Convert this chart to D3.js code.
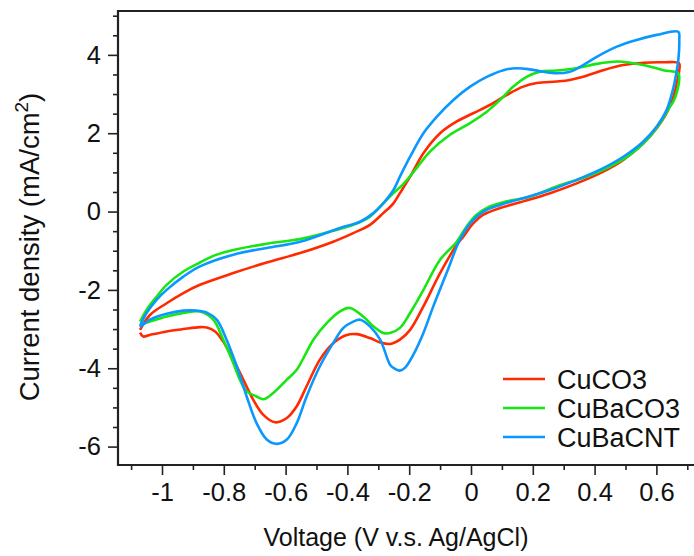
<!DOCTYPE html>
<html>
<head>
<meta charset="utf-8">
<script src="https://cdn.jsdelivr.net/npm/d3@7"></script>
<style>
  html, body { margin: 0; padding: 0; background: #fff; }
  svg { display: block; }
  text { font-family: "Liberation Sans", Arial, sans-serif; fill: #111; }
</style>
</head>
<body>
<svg id="chart" width="694" height="556"></svg>
<script>
// Cyclic voltammograms: anodic sweep from -1.07 V to 0.67 V, then the cathodic sweep back.
const seriesNames = ["CuCO3", "CuBaCO3", "CuBaCNT"];
const seriesColors = ["#ff2a00", "#18e612", "#0a98ff"];

const voltCuCO3 = [
  -1.071, -1.039, -0.985, -0.931, -0.877, -0.769, -0.661, -0.553, -0.446, -0.381, -0.327, -0.284, -0.251, -0.230,
  -0.197, -0.154, -0.100, -0.046, 0.007, 0.061, 0.116, 0.169, 0.213, 0.277, 0.320, 0.363, 0.428, 0.493, 0.558,
  0.622, 0.673,
  0.674, 0.666, 0.655, 0.633, 0.601, 0.558, 0.493, 0.428, 0.342, 0.256, 0.169, 0.094, 0.040, 0.007, -0.025,
  -0.046, -0.100, -0.154, -0.197, -0.230, -0.262, -0.294, -0.327, -0.370, -0.402, -0.446, -0.489, -0.532, -0.564,
  -0.596, -0.634, -0.672, -0.705, -0.737, -0.769, -0.802, -0.828, -0.855, -0.877, -0.931, -0.985, -1.039, -1.061,
  -1.071
];
const currCuCO3 = [
  -3.02, -2.64, -2.34, -2.08, -1.87, -1.57, -1.30, -1.06, -0.77, -0.55, -0.34, -0.04, 0.21, 0.47,
  0.89, 1.49, 2.00, 2.30, 2.51, 2.72, 2.98, 3.19, 3.28, 3.32, 3.36, 3.44, 3.61, 3.74, 3.80,
  3.81, 3.79,
  3.61, 3.28, 2.93, 2.51, 2.13, 1.74, 1.32, 1.02, 0.72, 0.47, 0.26, 0.09, -0.08, -0.30, -0.64,
  -0.85, -1.57, -2.42, -3.02, -3.27, -3.38, -3.34, -3.23, -3.13, -3.15, -3.36, -3.78, -4.46, -4.97,
  -5.27, -5.38, -5.19, -4.80, -4.29, -3.78, -3.32, -3.06, -2.96, -2.95, -3.00, -3.06, -3.15, -3.19,
  -3.09
];

const voltCuBaCO3 = [
  -1.071, -1.050, -1.017, -0.985, -0.931, -0.877, -0.823, -0.769, -0.661, -0.553, -0.446, -0.381, -0.327, -0.284,
  -0.251, -0.219, -0.176, -0.133, -0.068, -0.003, 0.051, 0.094, 0.137, 0.180, 0.223, 0.277, 0.342, 0.407, 0.472,
  0.515, 0.569, 0.622, 0.671,
  0.674, 0.668, 0.655, 0.644, 0.612, 0.569, 0.515, 0.450, 0.374, 0.277, 0.191, 0.116, 0.061, 0.018, -0.014,
  -0.046, -0.100, -0.154, -0.197, -0.230, -0.262, -0.284, -0.316, -0.349, -0.392, -0.424, -0.467, -0.510, -0.564,
  -0.596, -0.640, -0.672, -0.694, -0.726, -0.748, -0.769, -0.802, -0.834, -0.877, -0.931, -0.985, -1.039, -1.071
];
const currCuBaCO3 = [
  -2.81, -2.51, -2.17, -1.87, -1.53, -1.30, -1.10, -0.98, -0.82, -0.70, -0.49, -0.34, -0.13, 0.21,
  0.47, 0.70, 1.11, 1.53, 1.96, 2.26, 2.55, 2.85, 3.19, 3.44, 3.57, 3.60, 3.66, 3.77, 3.83,
  3.80, 3.72, 3.61, 3.53,
  3.40, 3.10, 2.81, 2.68, 2.26, 1.83, 1.45, 1.15, 0.89, 0.64, 0.38, 0.26, 0.13, -0.08, -0.38,
  -0.77, -1.23, -2.00, -2.59, -2.97, -3.10, -3.10, -2.93, -2.68, -2.46, -2.55, -2.85, -3.27, -4.04,
  -4.29, -4.63, -4.79, -4.72, -4.59, -4.29, -3.87, -3.27, -2.76, -2.55, -2.59, -2.68, -2.81, -2.89
];

const voltCuBaCNT = [
  -1.071, -1.050, -1.017, -0.985, -0.931, -0.877, -0.769, -0.661, -0.553, -0.424, -0.359, -0.316, -0.284, -0.251,
  -0.230, -0.197, -0.154, -0.111, -0.057, -0.003, 0.051, 0.105, 0.148, 0.191, 0.234, 0.277, 0.320, 0.363, 0.407,
  0.472, 0.536, 0.601, 0.671,
  0.674, 0.671, 0.666, 0.655, 0.633, 0.601, 0.558, 0.493, 0.428, 0.342, 0.256, 0.169, 0.094, 0.040, -0.003,
  -0.036, -0.079, -0.122, -0.154, -0.187, -0.214, -0.230, -0.251, -0.262, -0.294, -0.327, -0.359, -0.381, -0.413,
  -0.446, -0.489, -0.532, -0.564, -0.596, -0.629, -0.661, -0.694, -0.726, -0.758, -0.791, -0.823, -0.855, -0.888,
  -0.931, -0.985, -1.039, -1.071
];
const currCuBaCNT = [
  -2.92, -2.59, -2.25, -2.00, -1.66, -1.40, -1.10, -0.93, -0.77, -0.42, -0.26, -0.04, 0.21, 0.55,
  0.89, 1.40, 2.00, 2.42, 2.85, 3.19, 3.44, 3.61, 3.66, 3.63, 3.57, 3.53, 3.57, 3.74, 3.95,
  4.21, 4.38, 4.51, 4.59,
  4.38, 3.87, 3.61, 3.16, 2.59, 2.17, 1.79, 1.40, 1.11, 0.81, 0.55, 0.34, 0.17, 0.00, -0.30,
  -0.72, -1.57, -2.42, -3.10, -3.66, -3.99, -4.06, -3.99, -3.91, -3.27, -2.93, -2.76, -2.81, -2.97,
  -3.36, -3.95, -4.72, -5.40, -5.82, -5.93, -5.82, -5.40, -4.72, -3.95, -3.27, -2.76, -2.58, -2.53,
  -2.53, -2.61, -2.76, -2.95
];

const voltages = [voltCuCO3, voltCuBaCO3, voltCuBaCNT];
const currents = [currCuCO3, currCuBaCO3, currCuBaCNT];

const xTickValues = [-1, -0.8, -0.6, -0.4, -0.2, 0, 0.2, 0.4, 0.6];
const yTickValues = [-6, -4, -2, 0, 2, 4];
const xTitle = "Voltage (V v.s. Ag/AgCl)";

const svg = d3.select("#chart");
const plotLeft = 118, plotRight = 702, plotTop = 11, plotBottom = 465;

const x = d3.scaleLinear().domain([-1.1424, 0.7476]).range([plotLeft, plotRight]);
const y = d3.scaleLinear().domain([-6.47, 5.12]).range([plotBottom, plotTop]);

const fmt = d => String(+d.toFixed(1));

// Minor ticks
const xMinor = d3.range(-11, 8).map(i => i / 10).filter(v => !xTickValues.some(t => Math.abs(t - v) < 1e-9));
const yMinor = d3.range(-12, 11).map(i => i / 2).filter(v => !yTickValues.some(t => Math.abs(t - v) < 1e-9));

const gx = svg.append("g").attr("transform", `translate(0,${plotBottom})`);
gx.call(d3.axisBottom(x).tickValues(xMinor).tickSize(5).tickFormat(""));
gx.append("g").call(d3.axisBottom(x).tickValues(xTickValues).tickSize(10).tickPadding(8).tickFormat(fmt));

const gy = svg.append("g").attr("transform", `translate(${plotLeft},0)`);
gy.call(d3.axisLeft(y).tickValues(yMinor).tickSize(5).tickFormat(""));
gy.append("g").call(d3.axisLeft(y).tickValues(yTickValues).tickSize(10).tickPadding(7).tickFormat(fmt));

svg.selectAll(".domain").remove();
svg.selectAll(".tick line").attr("stroke", "#222").attr("stroke-width", 1.6);
svg.selectAll(".tick text").attr("font-size", 25.5).attr("font-family", "Liberation Sans, Arial, sans-serif").attr("fill", "#111");
gx.selectAll(".tick text").attr("dy", "0.72em");

// Plot curves
const line = d3.line()
  .x(d => x(d[0]))
  .y(d => y(d[1]))
  .curve(d3.curveCatmullRom.alpha(0.5));

seriesNames.forEach((name, i) => {
  const pts = voltages[i].map((v, k) => [v, currents[i][k]]);
  svg.append("path")
    .datum(pts)
    .attr("fill", "none")
    .attr("stroke", seriesColors[i])
    .attr("stroke-width", 2.6)
    .attr("stroke-linejoin", "round")
    .attr("d", line);
});

// Frame
svg.append("path")
  .attr("d", `M${plotRight},${plotTop}H${plotLeft}V${plotBottom}H${plotRight}`)
  .attr("fill", "none")
  .attr("stroke", "#222")
  .attr("stroke-width", 2.2);

// Axis titles
svg.append("text")
  .attr("x", 396).attr("y", 546)
  .attr("text-anchor", "middle")
  .attr("font-size", 25)
  .text(xTitle);

const yt = svg.append("text")
  .attr("transform", "translate(39,247) rotate(-90)")
  .attr("text-anchor", "middle")
  .attr("font-size", 27.5);
yt.append("tspan").text("Current density (mA/cm");
yt.append("tspan").attr("font-size", 19).attr("dy", -11).text("2");
yt.append("tspan").attr("dy", 11).text(")");

// Legend
const legend = svg.append("g");
seriesNames.forEach((name, i) => {
  const ly = 379 + i * 29;
  legend.append("line")
    .attr("x1", 503).attr("x2", 545).attr("y1", ly).attr("y2", ly)
    .attr("stroke", seriesColors[i]).attr("stroke-width", 2.6);
  legend.append("text")
    .attr("x", 557).attr("y", ly).attr("dy", "0.36em")
    .attr("font-size", 27)
    .text(name);
});
</script>
</body>
</html>
